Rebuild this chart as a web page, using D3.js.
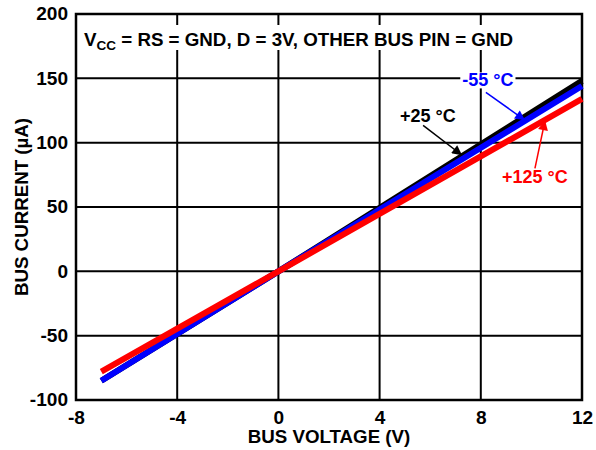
<!DOCTYPE html>
<html>
<head>
<meta charset="utf-8">
<script src="https://cdn.jsdelivr.net/npm/d3@7"></script>
<style>
  html, body { margin: 0; padding: 0; background: #fff; }
  svg text { font-family: "Liberation Sans", Arial, sans-serif; font-weight: bold; }
</style>
</head>
<body>
<svg id="chart" width="596" height="450"></svg>
<script>
// ---- data ----
const xTicks = [-8, -4, 0, 4, 8, 12];
const yTicks = [-100, -50, 0, 50, 100, 150, 200];
const voltage = [-7, 0, 12];
const current25 = [-85, 0, 148];
const currentM55 = [-85, 0, 144];
const current125 = [-78, 0, 134];
const seriesNames = ["+25 °C", "-55 °C", "+125 °C"];
const seriesColors = ["#000000", "#0000ff", "#ff0000"];
// annotation anchors in data units: label centre, arrow start, arrow tip
const labelX = [5.91, 8.28, 10.14];
const labelY = [121, 148.4, 73];
const arrowFromX = [5.72, 8.2, 10.14];
const arrowFromY = [113.5, 139.1, 80];
const arrowToX = [7.26, 9.75, 10.54];
const arrowToY = [90.2, 117.4, 117.4];

const svg = d3.select("#chart");
const m = { left: 76, right: 14, top: 14, bottom: 50 };
const W = 596, H = 450;
const x = d3.scaleLinear().domain([-8, 12]).range([m.left, W - m.right]);
const y = d3.scaleLinear().domain([-100, 200]).range([H - m.bottom, m.top]);

function stretch(sel, k) {
  sel.each(function () {
    const w = this.getComputedTextLength();
    d3.select(this).attr("textLength", w * k).attr("lengthAdjust", "spacingAndGlyphs");
  });
}

// grid
const g = svg.append("g");
g.selectAll(".vg").data(xTicks).join("line")
  .attr("x1", d => x(d)).attr("x2", d => x(d))
  .attr("y1", y(-100)).attr("y2", y(200))
  .attr("stroke", "#000").attr("stroke-width", 2);
g.selectAll(".hg").data(yTicks).join("line")
  .attr("y1", d => y(d)).attr("y2", d => y(d))
  .attr("x1", x(-8)).attr("x2", x(12))
  .attr("stroke", "#000").attr("stroke-width", 2);

// title with white box
const titleBox = svg.append("rect").attr("fill", "#fff");
const title = svg.append("text").attr("x", 84).attr("y", 46)
  .attr("font-size", 18).attr("fill", "#000");
title.append("tspan").text("V");
title.append("tspan").attr("font-size", 13).attr("dy", 4).text("CC");
title.append("tspan").attr("dy", -4).text(" = RS = GND, D = 3V, OTHER BUS PIN = GND");
title.attr("textLength", 429).attr("lengthAdjust", "spacingAndGlyphs");
const tb = title.node().getBBox();
titleBox.attr("x", tb.x - 3).attr("y", 25).attr("width", tb.width + 6).attr("height", 25);

// border
svg.append("rect").attr("x", x(-8)).attr("y", y(200))
  .attr("width", x(12) - x(-8)).attr("height", y(-100) - y(200))
  .attr("fill", "none").attr("stroke", "#000").attr("stroke-width", 2.5);

// axes
const xAxis = svg.append("g").attr("transform", `translate(0,${y(-100)})`)
  .call(d3.axisBottom(x).tickValues(xTicks).tickSize(0).tickPadding(11).tickFormat(d => String(d)));
const yAxis = svg.append("g").attr("transform", `translate(${x(-8)},0)`)
  .call(d3.axisLeft(y).tickValues(yTicks).tickSize(0).tickPadding(8).tickFormat(d => String(d)));
[xAxis, yAxis].forEach(a => {
  a.select(".domain").remove();
  a.selectAll("text").attr("font-size", 18).attr("fill", "#000")
    .attr("font-family", "Liberation Sans, Arial, sans-serif").attr("font-weight", "bold");
  stretch(a.selectAll("text"), 1.06);
});

const xl = svg.append("text").attr("x", (x(-8) + x(12)) / 2).attr("y", 443)
  .attr("text-anchor", "middle").attr("font-size", 18).text("BUS VOLTAGE (V)");
stretch(xl, 1.04);
const yl = svg.append("text").attr("transform", `translate(28,${(y(-100) + y(200)) / 2}) rotate(-90)`)
  .attr("text-anchor", "middle").attr("font-size", 18).text("BUS CURRENT (µA)");
stretch(yl, 1.04);

// series
const allSeries = [current25, currentM55, current125];
const line = d3.line().x(d => x(d[0])).y(d => y(d[1]));
allSeries.forEach((vals, i) => {
  svg.append("path").datum(voltage.map((v, j) => [v, vals[j]]))
    .attr("d", line).attr("fill", "none")
    .attr("stroke", seriesColors[i]).attr("stroke-width", 6);
});

// arrow markers
const defs = svg.append("defs");
seriesColors.forEach((c, i) => {
  defs.append("marker").attr("id", "ah" + i)
    .attr("viewBox", "0 0 10 10").attr("refX", 10).attr("refY", 5)
    .attr("markerUnits", "userSpaceOnUse")
    .attr("markerWidth", 14).attr("markerHeight", 10).attr("orient", "auto")
    .append("path").attr("d", "M0,0 L10,5 L0,10 Z").attr("fill", c);
});

// annotations
seriesNames.forEach((name, i) => {
  svg.append("line")
    .attr("x1", x(arrowFromX[i])).attr("y1", y(arrowFromY[i]))
    .attr("x2", x(arrowToX[i])).attr("y2", y(arrowToY[i]))
    .attr("stroke", seriesColors[i]).attr("stroke-width", 1.5)
    .attr("marker-end", `url(#ah${i})`);
  const t = svg.append("text").attr("x", x(labelX[i])).attr("y", y(labelY[i]) + 6)
    .attr("text-anchor", "middle").attr("font-size", 18)
    .attr("fill", seriesColors[i]).text(name);
  if (i === 1) {
    const bb = t.node().getBBox();
    svg.insert("rect", () => t.node()).attr("x", bb.x - 2).attr("y", bb.y + 2)
      .attr("width", bb.width + 4).attr("height", bb.height - 4).attr("fill", "#fff");
  }
});
</script>
</body>
</html>
